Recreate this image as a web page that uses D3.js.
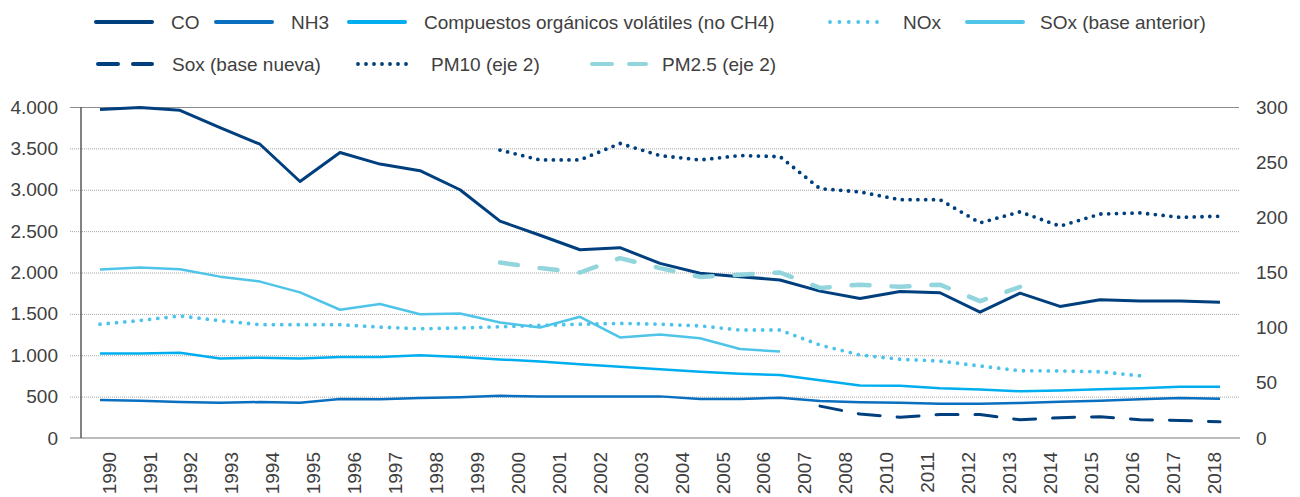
<!DOCTYPE html>
<html><head><meta charset="utf-8">
<script src="https://cdn.jsdelivr.net/npm/d3@7"></script>
<style>
body{margin:0;background:#fff}
text{font-family:"Liberation Sans",Arial,sans-serif;fill:#404040}
</style>
</head><body>
<svg id="c" width="1300" height="497"></svg>
<script>
// ---- data ----
const years = [1990,1991,1992,1993,1994,1995,1996,1997,1998,1999,2000,2001,2002,2003,2004,2005,2006,2007,2008,2009,2010,2011,2012,2013,2014,2015,2016,2017,2018];
const xLabels = ["1990","1991","1992","1993","1994","1995","1996","1997","1998","1999","2000","2001","2002","2003","2004","2005","2006","2007","2008","2010","2011","2012","2013","2014","2015","2016","2017","2018"];
const leftTicks = [0,500,1000,1500,2000,2500,3000,3500,4000];
const rightTicks = [0,50,100,150,200,250,300];

const CO   = [3970,3995,3960,3750,3550,3100,3450,3310,3230,3000,2620,2450,2275,2300,2110,1990,1950,1910,1775,1685,1770,1755,1520,1750,1590,1670,1655,1655,1640];
const NH3  = [460,450,435,425,435,425,470,467,483,492,510,503,503,503,503,472,472,485,447,433,427,413,415,423,439,451,467,483,475];
const COV  = [1020,1020,1030,960,970,960,980,980,1000,980,950,925,890,860,830,800,775,760,697,635,632,600,585,565,575,590,600,620,620];
const NOx  = [1375,1420,1475,1418,1370,1370,1370,1340,1320,1330,1345,1360,1375,1385,1375,1355,1305,1305,1124,1003,951,930,870,813,810,800,752,null,null];
const SOxOld = [2035,2060,2040,1950,1890,1760,1550,1620,1495,1505,1395,1335,1465,1215,1250,1205,1075,1045,null,null,null,null,null,null,null,null,null,null,null];
const SoxNew = [null,null,null,null,null,null,null,null,null,null,null,null,null,null,null,null,null,null,385,290,250,285,285,220,245,258,222,212,195];
const PM10 = [null,null,null,null,null,null,null,null,null,null,261,252,252,267,256,252,256,255,226,223,216,216,195,205,192,203,204,200,201];
const PM25 = [null,null,null,null,null,null,null,null,null,null,159,154,150,163,154,146,148,150,136,139,137,139,124,137,null,null,null,null,null];

const seriesNames = ["CO","NH3","Compuestos orgánicos volátiles (no CH4)","NOx","SOx (base anterior)","Sox (base nueva)","PM10 (eje 2)","PM2.5 (eje 2)"];

// ---- styles ----
const styles = [
  {data:CO, axis:1, color:"#003f7d", w:3, dash:null, cap:"butt"},
  {data:NH3, axis:1, color:"#0a6fbf", w:2.5, dash:null, cap:"butt"},
  {data:COV, axis:1, color:"#00aeef", w:2.5, dash:null, cap:"butt"},
  {data:NOx, axis:1, color:"#4cc3ea", w:3.8, dash:"0 8.3", cap:"round"},
  {data:SOxOld, axis:1, color:"#4fc4e9", w:2.5, dash:null, cap:"butt"},
  {data:SoxNew, axis:1, color:"#003f7d", w:3, dash:"22 17", cap:"round"},
  {data:PM10, axis:2, color:"#003f7d", w:3.8, dash:"0 7.8", cap:"round"},
  {data:PM25, axis:2, color:"#93d5dd", w:4.5, dash:"18 22", cap:"round"}
];
const legendStyle = [
  {dash:null},{dash:null},{dash:null},{dash:"0 9.4"},{dash:null},{dash:"20 15"},{dash:"0 8"},{dash:"20 17"}
];

const svg = d3.select("#c");
const x = d3.scaleBand().domain(years).range([80,1240]);
const xl = d3.scaleBand().domain(xLabels).range([88.5,1234.5]);
const y = d3.scaleLinear().domain([0,4000]).range([438,107]);
const y2 = d3.scaleLinear().domain([0,300]).range([438,107]);
const fmt = d3.formatLocale({decimal:",",thousands:".",grouping:[3],currency:["","€"]}).format(",d");
const FS = "19px";

// gridlines
const g = svg.append("g");
g.selectAll("line.grid").data(leftTicks.filter(d=>d>0&&d<4000)).join("line")
  .attr("x1",70).attr("x2",1240).attr("y1",d=>y(d)+0.5).attr("y2",d=>y(d)+0.5)
  .attr("stroke","#a6a6a6").attr("stroke-width",1).attr("stroke-dasharray","1 1");
g.append("line").attr("x1",70).attr("x2",1239).attr("y1",y(4000)+0.5).attr("y2",y(4000)+0.5)
  .attr("stroke","#8c8c8c").attr("stroke-width",1.2);
g.append("line").attr("x1",70).attr("x2",1240).attr("y1",y(0)).attr("y2",y(0))
  .attr("stroke","#a6a6a6").attr("stroke-width",1.5);
g.append("line").attr("x1",81).attr("x2",81).attr("y1",y(4000)).attr("y2",y(0))
  .attr("stroke","#595959").attr("stroke-width",1.5);

// left axis labels
const la = svg.append("g").attr("transform","translate(81,0)")
  .call(d3.axisLeft(y).tickValues(leftTicks).tickSize(0).tickPadding(23).tickFormat(fmt));
la.select(".domain").remove();
la.selectAll("text").style("font-size",FS).attr("fill","#404040");

// right axis labels
const ra = svg.append("g").attr("transform","translate(1240,0)")
  .call(d3.axisRight(y2).tickValues(rightTicks).tickSize(0).tickPadding(16));
ra.select(".domain").remove();
ra.selectAll("text").style("font-size",FS).attr("fill","#404040");

// x labels
svg.append("g").selectAll("text").data(xLabels).join("text")
  .attr("transform",d=>`translate(${xl(d)+xl.bandwidth()/2},452) rotate(-90)`)
  .attr("text-anchor","end").attr("dy","0.35em")
  .style("font-size",FS).text(d=>d);

// lines
const cx = i => x(years[i]) + x.bandwidth()/2;
styles.forEach(s=>{
  const sc = s.axis===1 ? y : y2;
  const line = d3.line().defined(d=>d!=null).x((d,i)=>cx(i)).y(d=>sc(d));
  svg.append("path").datum(s.data).attr("d",line)
    .attr("fill","none").attr("stroke",s.color).attr("stroke-width",s.w)
    .attr("stroke-dasharray",s.dash).attr("stroke-linecap",s.cap).attr("stroke-linejoin","round");
});

// legend
const legendPos = [
  {lx:96,tx:171,ty:22},{lx:216,tx:291,ty:22},{lx:349,tx:424,ty:22},{lx:828,tx:903,ty:22},{lx:967,tx:1040,ty:22},
  {lx:96,tx:172,ty:64},{lx:356,tx:431,ty:64},{lx:590,tx:662,ty:64}
];
const lg = svg.append("g");
seriesNames.forEach((n,i)=>{
  const p = legendPos[i], s = styles[i], ls = legendStyle[i];
  lg.append("line").attr("x1",p.lx+(ls.dash?2:0)).attr("x2",p.lx+56).attr("y1",p.ty).attr("y2",p.ty)
    .attr("stroke",s.color).attr("stroke-width",ls.dash && ls.dash.startsWith("0")?3.8:4)
    .attr("stroke-dasharray",ls.dash).attr("stroke-linecap","round");
  lg.append("text").attr("x",p.tx).attr("y",p.ty).attr("dy","0.35em")
    .style("font-size",FS).text(n);
});
</script>
</body></html>
